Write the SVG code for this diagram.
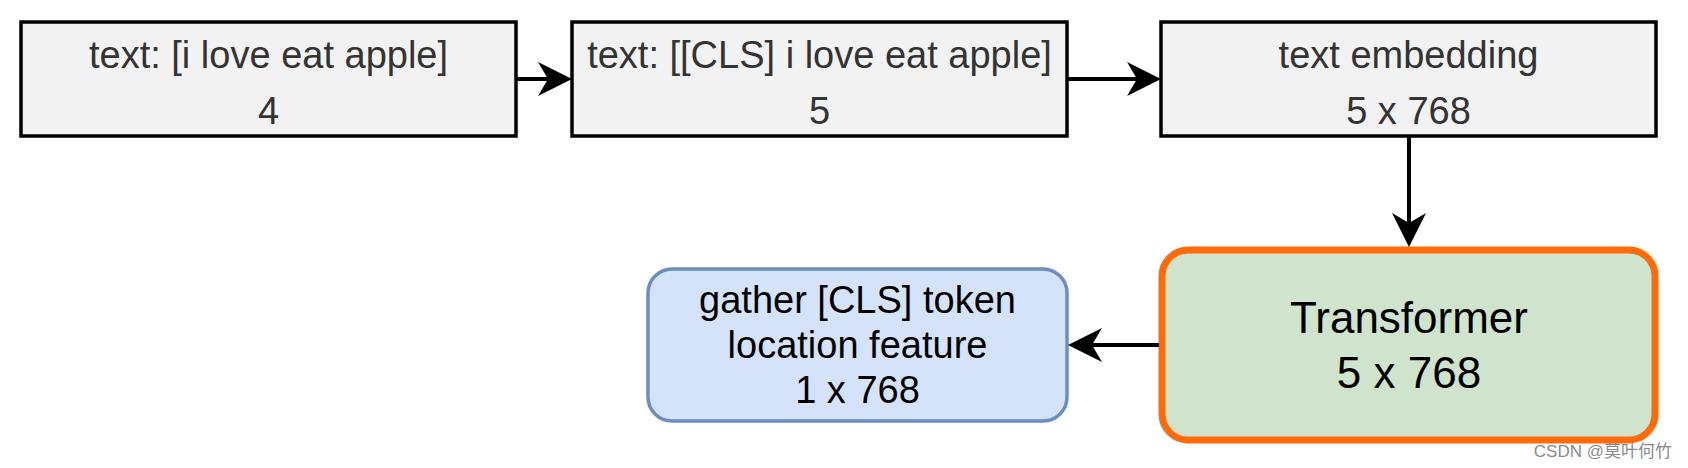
<svg xmlns="http://www.w3.org/2000/svg" width="1688" height="468" viewBox="0 0 1688 468">
  <style>
    .box { fill: #f2f2f2; stroke: #000; stroke-width: 3.5; }
    .lbl { font-family: "Liberation Sans", Arial, Helvetica, sans-serif; font-size: 38px; text-anchor: middle; fill: #333333; }
    .blk { fill: #000; }
    .big { font-size: 44px; }
    .conn { stroke: #000; stroke-width: 4; fill: none; }
    .wm { font-family: "Liberation Sans", "Noto Sans CJK SC", sans-serif; font-size: 17px; fill: #8a8a8a; text-anchor: end; }
  </style>
  <defs>
    <marker id="arrow" viewBox="0 0 34 34" refX="12" refY="17" markerWidth="34" markerHeight="34" orient="auto" markerUnits="userSpaceOnUse">
      <path d="M34,17 L0,0 L10,17 L0,34 Z" fill="#000"/>
    </marker>
  </defs>
  <rect width="1688" height="468" fill="#ffffff"/>

  <g id="node-text">
    <rect class="box" x="21" y="22" width="495" height="114"/>
    <text class="lbl" x="268.5" y="68">text: [i love eat apple]</text>
    <text class="lbl" x="268.5" y="124">4</text>
  </g>

  <g id="node-text-cls">
    <rect class="box" x="572" y="22" width="495" height="114"/>
    <text class="lbl" x="819.5" y="68">text: [[CLS] i love eat apple]</text>
    <text class="lbl" x="819.5" y="124">5</text>
  </g>

  <g id="node-embedding">
    <rect class="box" x="1161" y="22" width="495" height="114"/>
    <text class="lbl" x="1408.5" y="68">text embedding</text>
    <text class="lbl" x="1408.5" y="124">5 x 768</text>
  </g>

  <g id="node-transformer">
    <rect x="1162" y="250" width="493" height="190" rx="26" ry="26" fill="#cfe3cd" stroke="#ff6a0a" stroke-width="7"/>
    <text class="lbl blk big" x="1409" y="333">Transformer</text>
    <text class="lbl blk big" x="1409" y="388">5 x 768</text>
  </g>

  <g id="node-gather">
    <rect x="648" y="269" width="419" height="152" rx="24" ry="24" fill="#d4e3fa" stroke="#6c8ebf" stroke-width="3.5"/>
    <text class="lbl blk" x="857.5" y="313">gather [CLS] token</text>
    <text class="lbl blk" x="857.5" y="358">location feature</text>
    <text class="lbl blk" x="857.5" y="403">1 x 768</text>
  </g>

  <g id="connectors">
    <line class="conn" x1="516" y1="79" x2="550" y2="79" marker-end="url(#arrow)"/>
    <line class="conn" x1="1067" y1="79" x2="1139" y2="79" marker-end="url(#arrow)"/>
    <line class="conn" x1="1409" y1="136" x2="1409" y2="225" marker-end="url(#arrow)"/>
    <line class="conn" x1="1159" y1="345" x2="1090" y2="345" marker-end="url(#arrow)"/>
  </g>

  <text class="wm" x="1672" y="457">CSDN @莫叶何竹</text>
</svg>
